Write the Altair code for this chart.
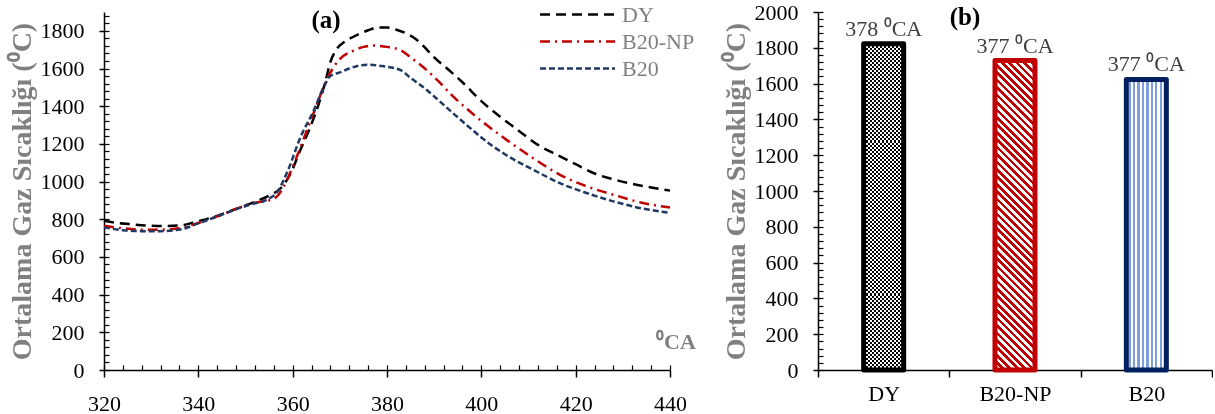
import altair as alt
import pandas as pd
import math

SERIF = "Liberation Serif"

# ---------------- panel (a): gas temperature vs crank angle ----------------
series = ["DY", "B20-NP", "B20"]
line_colors = ["#000000", "#c00000", "#1f3864"]
line_dashes = [[10, 6], [10, 5, 2, 5], [6, 3]]

dy_ca = [320, 323, 326, 329, 332, 336, 340, 344, 348, 352, 355, 357.5, 359.5, 361.5, 363.5,
         365.5, 367, 368, 369, 371, 373, 376, 378, 380, 382, 384, 386, 388, 390, 393, 396,
         400, 404, 408, 412, 416, 420, 424, 428, 432, 436, 440]
dy_t = [792, 780, 773, 767, 764, 767, 790, 818, 855, 893, 925, 966, 1040, 1160, 1275,
        1410, 1537, 1635, 1690, 1742, 1770, 1803, 1818, 1818, 1806, 1787, 1758, 1712, 1659, 1595, 1527,
        1427, 1344, 1269, 1195, 1142, 1092, 1043, 1012, 988, 969, 952]

np_ca = [320, 324, 328, 332, 336, 340, 344, 348, 352, 355, 357, 359, 361, 363, 365, 367,
         368.7, 370, 373, 375, 377, 380, 383, 385, 388.5, 391, 394, 397, 400, 405, 411,
         417, 422, 428, 434, 440]
np_t = [765, 752, 745, 745, 752, 780, 815, 855, 888, 900, 930, 1020, 1140, 1270, 1400, 1530,
        1608, 1650, 1696, 1715, 1722, 1715, 1696, 1660, 1590, 1530, 1452, 1385, 1322, 1228, 1124,
        1032, 978, 930, 888, 862]

b20_ca = [320, 324, 328, 332, 336, 340, 344, 348, 352, 354.6, 356.8, 358.9, 361.7, 364.5, 366.6,
          368, 370.2, 372, 375.8, 379, 383, 385, 388.5, 391, 394, 397, 400, 405, 411,
          417, 422, 428, 434, 440]
b20_t = [757, 742, 737, 737, 745, 778, 815, 853, 885, 904, 948, 1054, 1238, 1379, 1502,
         1560, 1581, 1600, 1620, 1613, 1590, 1550, 1485, 1430, 1363, 1298, 1234, 1145, 1063,
         988, 942, 895, 858, 834]

x_major = [320, 340, 360, 380, 400, 420, 440]
y_major_a = [0, 200, 400, 600, 800, 1000, 1200, 1400, 1600, 1800]

# ---------------- panel (b): peak temperatures ----------------
bar_fuels = ["DY", "B20-NP", "B20"]
bar_peaks = [1822, 1729, 1623]
bar_labels = ["378 ⁰CA", "377 ⁰CA", "377 ⁰CA"]
bar_strokes = ["#000000", "#c00000", "#002060"]
y_major_b = [0, 200, 400, 600, 800, 1000, 1200, 1400, 1600, 1800, 2000]

Y_TITLE = "Ortalama Gaz Sıcaklığı (⁰C)"

# ---------------- data frames ----------------
rows = []
for name, xs, ys in [("DY", dy_ca, dy_t), ("B20-NP", np_ca, np_t), ("B20", b20_ca, b20_t)]:
    for a, b in zip(xs, ys):
        rows.append({"series": name, "ca": a, "t": b})
df_a = pd.DataFrame(rows)
df_b = pd.DataFrame({"fuel": bar_fuels, "peak": bar_peaks, "label": bar_labels})

W_A, W_B, H = 566, 394, 358
BAR_W = 40


def stripes(n, c1, c2, **coords):
    stops = []
    for i in range(n):
        a, m, b = i / n, (i + 0.5) / n, (i + 1) / n
        stops += [{"offset": round(a, 5), "color": c1}, {"offset": round(m, 5), "color": c1},
                  {"offset": round(m, 5), "color": c2}, {"offset": round(b, 5), "color": c2}]
    g = {"gradient": "linear", "stops": stops}
    g.update(coords)
    return g


def bar_px(v):
    return v * H / 2000.0


# pattern-like fills
dy_h = stripes(max(1, int(bar_px(bar_peaks[0]) / 4)), "#000000", "#ffffff", x1=0, y1=0, x2=0, y2=1)
dy_v = stripes(BAR_W // 4, "#ffffff", "#000000", x1=0, y1=0, x2=1, y2=0)
h_np = bar_px(bar_peaks[1])
a_ = BAR_W / h_np
k_ = (a_ + 1) / (a_ * a_ + 1)
n_np = int((BAR_W + h_np) / math.sqrt(2) / 5.2)
np_fill = stripes(n_np, "#c00000", "#ffffff", x1=0, y1=1, x2=k_ * a_, y2=1 - k_)
b20_fill = stripes(9, "#ffffff", "#7f9fdc", x1=0, y1=0, x2=1, y2=0)

AX_COMMON = dict(domainColor="black", tickColor="black", domainWidth=1.5, tickWidth=1.5,
                 labelFontSize=22, labelFont=SERIF, labelColor="black", grid=False, labelFlush=False)
Y_TITLE_STYLE = dict(titleFontSize=28, titleFontWeight="bold", titleColor="#808080", titleFont=SERIF,
                     titlePadding=4)

# ---------------- panel (a) chart ----------------
xs_a = alt.Scale(domain=[320, 440], nice=False)
ys_a = alt.Scale(domain=[0, 1900], nice=False)

# long, thin line symbol: path spans +-2.885 units of half the symbol width (13 px)
legend = alt.Legend(title=None, orient="none", legendX=459, legendY=-12, symbolType="M-2.885,0H2.885",
                    symbolSize=676, symbolStrokeWidth=2.5, labelFont=SERIF, labelFontSize=22,
                    labelColor="#808080", labelOffset=30, rowPadding=1)

lines = alt.Chart(df_a).mark_line(strokeWidth=2.5, interpolate="monotone").encode(
    x=alt.X("ca:Q", scale=xs_a, axis=alt.Axis(values=x_major, format="d", tickSize=7, labelPadding=16,
                                              title=None, orient="bottom", **AX_COMMON)),
    y=alt.Y("t:Q", scale=ys_a, axis=alt.Axis(values=y_major_a, format="d", tickSize=5, labelPadding=15,
                                             title=Y_TITLE, orient="left", **Y_TITLE_STYLE, **AX_COMMON)),
    color=alt.Color("series:N", scale=alt.Scale(domain=series, range=line_colors), legend=legend),
    strokeDash=alt.StrokeDash("series:N", scale=alt.Scale(domain=series, range=line_dashes), legend=legend),
)

txt_a = alt.Chart(pd.DataFrame({"t": ["(a)"]})).mark_text(
    font=SERIF, fontSize=25, fontWeight="bold", color="black").encode(
    text="t:N", x=alt.value(222), y=alt.value(8))
txt_ca = alt.Chart(pd.DataFrame({"t": ["⁰CA"]})).mark_text(
    font=SERIF, fontSize=22, fontWeight="bold", color="#808080").encode(
    text="t:N", x=alt.value(572), y=alt.value(330))

minor_a = alt.Chart(df_a).mark_point(opacity=0).encode(
    x=alt.X("ca:Q", scale=xs_a, axis=alt.Axis(orient="bottom", offset=-5, values=list(range(320, 441, 4)),
                                              tickSize=5, labels=False, domain=False, grid=False,
                                              title=None, tickColor="black", tickWidth=1.2)),
    y=alt.Y("t:Q", scale=ys_a, axis=alt.Axis(orient="left", offset=-5, values=list(range(0, 1900, 40)),
                                             tickSize=5, labels=False, domain=False, grid=False,
                                             title=None, tickColor="black", tickWidth=1.2)),
)

left = alt.layer(alt.layer(lines, txt_a, txt_ca), minor_a).resolve_axis(
    x="independent", y="independent").properties(width=W_A, height=H)

# ---------------- panel (b) chart ----------------
xs_b = alt.Scale(domain=bar_fuels, paddingInner=0, paddingOuter=0)
ys_b = alt.Scale(domain=[0, 2000], nice=False)
x_b = alt.X("fuel:N", sort=bar_fuels, scale=xs_b,
            axis=alt.Axis(title=None, tickBand="extent", tickSize=7, labelPadding=6, labelAngle=0,
                          orient="bottom", **AX_COMMON))
y_b = alt.Y("peak:Q", scale=ys_b,
            axis=alt.Axis(values=y_major_b, format="d", tickSize=5, labelPadding=15, title=Y_TITLE,
                          orient="left", **Y_TITLE_STYLE, **AX_COMMON))

base_b = alt.Chart(df_b)
dy1 = base_b.mark_bar(size=BAR_W, fill=dy_h).encode(x=x_b, y=y_b).transform_filter(
    alt.datum.fuel == "DY")
dy2 = base_b.mark_bar(size=BAR_W, fill=dy_v, blend="difference").encode(x=x_b, y=y_b).transform_filter(
    alt.datum.fuel == "DY")
npb = base_b.mark_bar(size=BAR_W, fill=np_fill).encode(x=x_b, y=y_b).transform_filter(
    alt.datum.fuel == "B20-NP")
b20b = base_b.mark_bar(size=BAR_W, fill=b20_fill).encode(x=x_b, y=y_b).transform_filter(
    alt.datum.fuel == "B20")
outline = base_b.mark_bar(size=BAR_W, fillOpacity=0, fill="white", strokeWidth=5,
                          strokeJoin="round").encode(
    x=x_b, y=y_b,
    stroke=alt.Stroke("fuel:N", scale=alt.Scale(domain=bar_fuels, range=bar_strokes), legend=None),
)
bar_txt = base_b.mark_text(font=SERIF, fontSize=22, color="#404040", baseline="bottom", dy=-3).encode(
    x=x_b, y=y_b, text="label:N")
txt_b = alt.Chart(pd.DataFrame({"t": ["(b)"]})).mark_text(
    font=SERIF, fontSize=25, fontWeight="bold", color="black").encode(
    text="t:N", x=alt.value(147), y=alt.value(5))

minor_b = base_b.mark_point(opacity=0).encode(
    y=alt.Y("peak:Q", scale=ys_b, axis=alt.Axis(orient="left", offset=-5, values=list(range(0, 2001, 40)),
                                                tickSize=5, labels=False, domain=False, grid=False,
                                                title=None, tickColor="black", tickWidth=1.2)),
)

right = alt.layer(alt.layer(dy1, dy2, npb, b20b, outline, bar_txt, txt_b), minor_b).resolve_axis(
    y="independent").properties(width=W_B, height=H)

chart = alt.hconcat(left, right, spacing=148, bounds="flush").properties(
    padding={"left": 8, "top": 0, "right": 0, "bottom": 0}
).configure_view(stroke=None)

chart.save("out.html", embed_options={"renderer": "svg", "actions": False})
